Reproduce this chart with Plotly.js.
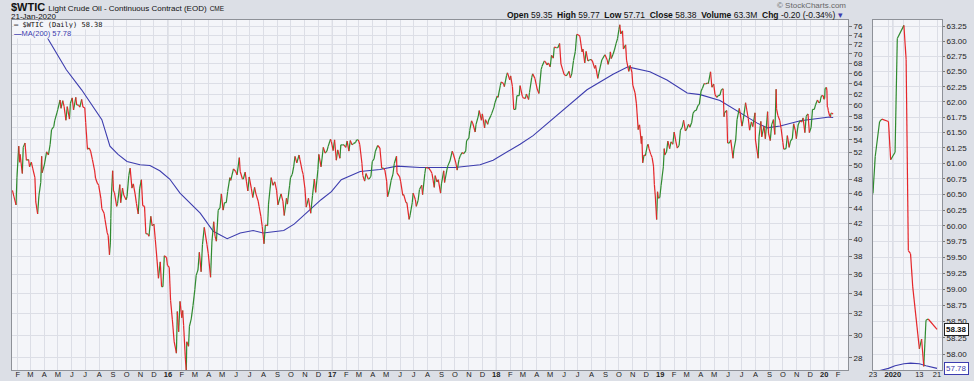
<!DOCTYPE html>
<html><head><meta charset="utf-8">
<script src="https://cdn.plot.ly/plotly-3.0.1.min.js"></script>
<style>html,body{margin:0;padding:0;background:#dcdfe6;} #chart{width:974px;height:381px;}</style>
</head><body><div id="chart"></div>
<script>
// ---- price data ($WTIC close) ----
const priceDates = [
'2015-01-20','2015-01-23','2015-01-28','2015-01-30','2015-02-03','2015-02-05','2015-02-06','2015-02-11','2015-02-13','2015-02-17','2015-02-20','2015-02-25','2015-02-27',
'2015-03-03','2015-03-06','2015-03-11','2015-03-13','2015-03-17','2015-03-20','2015-03-24','2015-03-26','2015-03-27',
'2015-04-01','2015-04-06','2015-04-10','2015-04-14','2015-04-17','2015-04-22','2015-04-24','2015-04-29',
'2015-05-01','2015-05-06','2015-05-08','2015-05-12','2015-05-15','2015-05-19','2015-05-22','2015-05-27','2015-05-29',
'2015-06-02','2015-06-05','2015-06-10','2015-06-12','2015-06-16','2015-06-19','2015-06-23','2015-06-26','2015-06-30',
'2015-07-02','2015-07-06','2015-07-10','2015-07-13','2015-07-17','2015-07-22','2015-07-24','2015-07-28','2015-07-31',
'2015-08-05','2015-08-07','2015-08-12','2015-08-14','2015-08-19','2015-08-21','2015-08-24','2015-08-26','2015-08-27','2015-08-28','2015-08-31',
'2015-09-02','2015-09-04','2015-09-09','2015-09-11','2015-09-16','2015-09-18','2015-09-22','2015-09-25','2015-09-30',
'2015-10-02','2015-10-06','2015-10-09','2015-10-13','2015-10-16','2015-10-20','2015-10-23','2015-10-27','2015-10-30',
'2015-11-03','2015-11-06','2015-11-10','2015-11-13','2015-11-17','2015-11-20','2015-11-24','2015-11-27',
'2015-12-01','2015-12-04','2015-12-08','2015-12-11','2015-12-15','2015-12-18','2015-12-21','2015-12-24','2015-12-29','2015-12-31',
'2016-01-04','2016-01-07','2016-01-11','2016-01-15','2016-01-20','2016-01-22','2016-01-25','2016-01-28',
'2016-02-01','2016-02-03','2016-02-05','2016-02-09','2016-02-11','2016-02-12','2016-02-16','2016-02-18','2016-02-22','2016-02-26',
'2016-03-01','2016-03-04','2016-03-08','2016-03-11','2016-03-15','2016-03-18','2016-03-22','2016-03-28','2016-03-31',
'2016-04-05','2016-04-08','2016-04-12','2016-04-15','2016-04-18','2016-04-22','2016-04-26','2016-04-29',
'2016-05-03','2016-05-06','2016-05-10','2016-05-13','2016-05-18','2016-05-20','2016-05-26','2016-05-31',
'2016-06-03','2016-06-08','2016-06-10','2016-06-15','2016-06-17','2016-06-21','2016-06-24','2016-06-27','2016-06-30',
'2016-07-05','2016-07-08','2016-07-12','2016-07-15','2016-07-20','2016-07-22','2016-07-26','2016-07-29',
'2016-08-02','2016-08-05','2016-08-10','2016-08-12','2016-08-18','2016-08-22','2016-08-26','2016-08-30',
'2016-09-02','2016-09-07','2016-09-09','2016-09-13','2016-09-16','2016-09-21','2016-09-23','2016-09-28','2016-09-30',
'2016-10-04','2016-10-07','2016-10-10','2016-10-14','2016-10-19','2016-10-21','2016-10-26','2016-10-28',
'2016-11-01','2016-11-04','2016-11-09','2016-11-14','2016-11-18','2016-11-22','2016-11-25','2016-11-30',
'2016-12-02','2016-12-07','2016-12-12','2016-12-16','2016-12-20','2016-12-23','2016-12-28','2016-12-30',
'2017-01-03','2017-01-06','2017-01-10','2017-01-13','2017-01-18','2017-01-20','2017-01-24','2017-01-27','2017-01-31',
'2017-02-03','2017-02-07','2017-02-10','2017-02-14','2017-02-17','2017-02-22','2017-02-24','2017-02-28',
'2017-03-03','2017-03-08','2017-03-10','2017-03-14','2017-03-17','2017-03-22','2017-03-24','2017-03-28','2017-03-31',
'2017-04-04','2017-04-07','2017-04-12','2017-04-17','2017-04-21','2017-04-25','2017-04-28',
'2017-05-02','2017-05-04','2017-05-08','2017-05-12','2017-05-16','2017-05-19','2017-05-24','2017-05-25','2017-05-31',
'2017-06-02','2017-06-07','2017-06-09','2017-06-14','2017-06-16','2017-06-21','2017-06-23','2017-06-28','2017-06-30',
'2017-07-05','2017-07-07','2017-07-11','2017-07-14','2017-07-19','2017-07-21','2017-07-26','2017-07-28',
'2017-08-02','2017-08-04','2017-08-08','2017-08-11','2017-08-16','2017-08-18','2017-08-22','2017-08-25','2017-08-30',
'2017-09-01','2017-09-06','2017-09-08','2017-09-13','2017-09-15','2017-09-20','2017-09-25','2017-09-28',
'2017-10-03','2017-10-06','2017-10-10','2017-10-13','2017-10-17','2017-10-20','2017-10-25','2017-10-27',
'2017-11-01','2017-11-03','2017-11-07','2017-11-10','2017-11-15','2017-11-17','2017-11-22','2017-11-24','2017-11-29',
'2017-12-01','2017-12-06','2017-12-08','2017-12-13','2017-12-15','2017-12-20','2017-12-22','2017-12-27','2017-12-29',
'2018-01-03','2018-01-05','2018-01-10','2018-01-12','2018-01-17','2018-01-19','2018-01-24','2018-01-26','2018-01-31',
'2018-02-02','2018-02-06','2018-02-09','2018-02-13','2018-02-16','2018-02-21','2018-02-23','2018-02-28',
'2018-03-02','2018-03-07','2018-03-09','2018-03-14','2018-03-16','2018-03-21','2018-03-23','2018-03-28',
'2018-04-02','2018-04-06','2018-04-11','2018-04-13','2018-04-18','2018-04-20','2018-04-24','2018-04-27',
'2018-05-01','2018-05-04','2018-05-08','2018-05-10','2018-05-15','2018-05-18','2018-05-22','2018-05-25','2018-05-29',
'2018-06-01','2018-06-05','2018-06-08','2018-06-12','2018-06-15','2018-06-18','2018-06-22','2018-06-26','2018-06-29',
'2018-07-03','2018-07-06','2018-07-11','2018-07-13','2018-07-17','2018-07-20','2018-07-24','2018-07-27','2018-07-31',
'2018-08-03','2018-08-08','2018-08-10','2018-08-15','2018-08-17','2018-08-22','2018-08-24','2018-08-29','2018-08-31',
'2018-09-05','2018-09-07','2018-09-11','2018-09-12','2018-09-14','2018-09-18','2018-09-21','2018-09-25','2018-09-28',
'2018-10-01','2018-10-03','2018-10-05','2018-10-09','2018-10-11','2018-10-16','2018-10-18','2018-10-23','2018-10-26','2018-10-30',
'2018-11-01','2018-11-06','2018-11-09','2018-11-13','2018-11-14','2018-11-16','2018-11-20','2018-11-21','2018-11-23','2018-11-26','2018-11-29',
'2018-12-03','2018-12-05','2018-12-07','2018-12-11','2018-12-14','2018-12-17','2018-12-19','2018-12-21','2018-12-24','2018-12-26','2018-12-28','2018-12-31',
'2019-01-03','2019-01-08','2019-01-10','2019-01-11','2019-01-15','2019-01-18','2019-01-22','2019-01-25','2019-01-29',
'2019-02-01','2019-02-05','2019-02-08','2019-02-12','2019-02-15','2019-02-19','2019-02-22','2019-02-26',
'2019-03-01','2019-03-05','2019-03-08','2019-03-12','2019-03-15','2019-03-19','2019-03-22','2019-03-26','2019-03-29',
'2019-04-02','2019-04-05','2019-04-09','2019-04-12','2019-04-16','2019-04-18','2019-04-23','2019-04-26','2019-04-30',
'2019-05-03','2019-05-07','2019-05-10','2019-05-14','2019-05-17','2019-05-21','2019-05-23','2019-05-24','2019-05-29','2019-05-31',
'2019-06-04','2019-06-07','2019-06-12','2019-06-14','2019-06-18','2019-06-21','2019-06-26','2019-06-28',
'2019-07-02','2019-07-05','2019-07-10','2019-07-16','2019-07-19','2019-07-23','2019-07-26','2019-07-31',
'2019-08-01','2019-08-07','2019-08-09','2019-08-13','2019-08-15','2019-08-20','2019-08-23','2019-08-28','2019-08-30',
'2019-09-03','2019-09-06','2019-09-10','2019-09-13','2019-09-16','2019-09-17','2019-09-20','2019-09-24','2019-09-27',
'2019-10-01','2019-10-03','2019-10-08','2019-10-11','2019-10-15','2019-10-18','2019-10-22','2019-10-25','2019-10-29','2019-10-31',
'2019-11-04','2019-11-08','2019-11-12','2019-11-15','2019-11-19','2019-11-22','2019-11-26','2019-11-29',
'2019-12-03','2019-12-06','2019-12-10','2019-12-13','2019-12-17','2019-12-20',
'2019-12-23','2019-12-24','2019-12-26','2019-12-27','2019-12-30','2019-12-31',
'2020-01-02','2020-01-03','2020-01-06','2020-01-07','2020-01-08','2020-01-09','2020-01-10',
'2020-01-13','2020-01-14','2020-01-15','2020-01-16','2020-01-17','2020-01-21'
];
const priceClose = [
46.4,45.6,44.4,48.2,53.0,50.5,51.7,48.8,52.8,53.5,50.8,50.9,49.8,
50.5,49.6,48.2,44.8,43.2,45.7,47.5,51.4,48.9,
50.1,52.1,51.6,53.3,55.7,56.2,57.2,58.6,
59.2,60.9,59.4,60.8,59.7,57.3,59.7,57.5,60.3,
61.3,59.1,61.4,60.0,60.0,59.6,61.0,59.6,59.5,
56.9,52.5,52.7,52.2,50.9,49.2,48.1,47.4,47.1,
45.2,43.9,43.3,42.5,40.8,40.5,38.2,39.6,42.6,45.2,49.2,
46.3,46.1,44.2,44.6,47.2,44.7,46.7,45.7,45.1,
45.5,48.5,49.6,46.7,47.3,45.9,44.6,43.2,46.6,
47.9,44.3,44.2,40.7,40.7,40.4,42.9,41.7,
41.9,40.0,37.5,35.6,37.4,34.7,34.7,38.1,37.9,37.0,
36.8,33.3,31.4,29.4,28.4,32.2,30.3,33.2,
31.6,32.3,30.9,27.9,26.9,29.4,29.0,30.8,31.5,32.8,
34.4,35.9,36.5,38.5,36.3,39.4,41.5,39.4,38.3,
35.7,39.7,42.2,40.4,39.8,43.7,44.0,45.9,
43.7,44.7,44.7,46.2,48.2,47.8,49.5,49.1,
48.6,51.2,49.1,48.0,48.0,49.0,47.6,46.3,48.3,
46.6,45.4,46.8,45.9,44.9,44.2,42.9,41.6,
39.5,41.8,41.7,44.5,48.2,47.1,47.6,46.4,
44.4,45.5,45.9,44.9,43.0,45.3,44.5,47.1,48.2,
48.7,49.8,51.4,50.4,51.6,50.9,49.2,48.7,
46.7,44.1,45.3,43.3,45.7,48.0,46.1,49.4,
51.7,49.8,52.8,51.9,52.2,53.0,54.1,53.7,
52.3,54.0,50.8,52.4,51.1,53.2,53.2,53.2,52.8,
53.8,52.2,53.9,53.2,53.4,53.6,54.0,54.0,
53.3,50.3,48.5,47.7,48.8,48.0,48.0,48.4,50.6,
51.0,52.2,53.1,52.7,49.6,49.6,49.3,
47.7,45.5,46.4,47.8,48.7,50.3,51.4,48.9,48.3,
47.7,45.7,45.8,44.7,44.7,42.5,43.0,44.7,46.0,
45.1,44.2,45.0,46.5,47.1,45.8,48.8,49.7,
49.6,49.6,49.2,48.8,46.8,48.5,47.6,47.9,46.0,
47.3,49.2,47.5,49.3,49.9,50.7,52.2,51.6,
50.4,49.3,50.9,51.5,52.0,51.8,52.2,53.9,
54.3,55.6,57.2,56.7,55.3,56.6,58.0,59.0,57.3,
58.4,56.0,57.4,56.6,57.3,58.1,58.5,59.6,60.4,
61.6,61.4,63.6,64.3,64.0,63.4,65.6,66.1,64.7,
65.5,63.4,59.2,59.2,61.7,61.7,63.6,61.6,
61.3,61.2,62.0,61.0,62.3,65.2,65.9,65.0,
63.0,62.1,66.8,67.4,68.5,68.4,67.7,68.1,
67.3,69.7,69.1,71.4,71.3,71.3,72.2,67.9,66.7,
65.8,65.5,65.7,66.4,65.1,65.9,68.6,70.5,74.2,
74.1,73.8,70.4,71.0,68.1,70.5,68.5,68.7,68.8,
68.5,67.0,67.6,65.0,65.9,67.9,68.7,69.5,69.8,
68.7,67.8,69.3,70.4,69.0,69.9,70.8,72.3,73.3,
75.3,76.4,74.3,75.0,71.0,71.9,68.7,66.4,67.6,66.2,
63.7,62.2,60.2,55.7,56.3,56.5,53.4,54.6,50.4,51.6,51.5,
53.0,53.3,52.6,51.7,51.2,49.9,47.2,45.6,42.5,46.2,45.3,45.4,
47.1,49.8,52.6,51.6,52.1,53.8,52.6,53.7,53.3,
55.3,53.7,52.7,53.1,55.6,56.1,57.3,55.5,
55.8,56.6,56.1,56.9,58.5,59.0,59.0,59.9,60.1,
62.6,63.1,64.0,63.9,64.1,64.0,66.3,63.3,63.9,
61.9,61.4,61.7,61.8,62.8,63.0,57.9,58.6,59.0,53.5,
53.5,54.0,51.1,52.5,54.0,57.4,59.4,58.5,
56.3,57.5,60.4,57.6,55.6,57.0,56.2,58.6,
54.0,51.1,54.5,57.1,54.5,56.3,54.2,58.8,55.1,
53.9,56.5,57.4,54.9,62.9,59.3,58.1,57.3,55.9,
53.6,52.5,52.6,54.7,52.8,53.8,54.2,56.7,55.5,54.2,
56.5,57.2,57.0,57.7,55.2,58.0,58.4,55.2,
56.1,59.2,59.2,60.1,60.9,60.4,
60.52,61.11,61.68,61.72,61.68,61.06,
61.18,63.05,63.27,62.70,59.61,59.56,59.04,
58.08,58.23,57.81,58.52,58.54,58.38
];
// ---- MA(200) ----
const maDates = [
'2015-03-01','2015-04-05','2015-05-20','2015-06-23','2015-08-07','2015-08-25','2015-09-12','2015-10-02','2015-10-31','2015-11-22','2015-12-14',
'2016-01-05','2016-01-28','2016-02-12','2016-03-13','2016-04-11','2016-05-12','2016-06-10','2016-07-09','2016-07-31','2016-09-15','2016-10-08','2016-11-08','2016-12-07','2016-12-30',
'2017-01-21','2017-03-04','2017-04-17','2017-05-25','2017-07-15','2017-10-01','2017-11-26','2017-12-25',
'2018-02-23','2018-03-24','2018-05-23','2018-07-22','2018-09-18','2018-10-21','2018-12-09',
'2019-01-16','2019-03-02','2019-03-31','2019-05-14','2019-06-28','2019-08-05','2019-08-27','2019-09-25','2019-11-09',
'2019-12-23','2019-12-30','2020-01-02','2020-01-06','2020-01-09','2020-01-13','2020-01-16','2020-01-21'
];
const maValues = [
81.5,73.9,66.7,62.8,57.4,53.0,51.7,50.6,50.1,50.0,49.2,
48.0,46.0,45.1,43.3,41.0,40.1,40.8,41.1,40.8,41.1,41.9,43.5,45.1,46.2,
47.9,49.1,49.4,49.9,49.7,49.7,50.1,50.8,
53.3,54.7,58.6,62.8,65.8,67.3,66.3,
64.7,62.2,61.9,60.8,58.6,56.8,56.0,56.3,57.2,
57.72,57.78,57.82,57.85,57.86,57.85,57.82,57.78
];
// ---- axis ticks / labels ----
const mainYTicks = [28,30,32,34,36,38,40,42,44,46,48,50,52,54,56,58,60,62,64,66,68,70,72,74,76];
const panelYTicks = [58.00,58.25,58.50,58.75,59.00,59.25,59.50,59.75,60.00,60.25,60.50,60.75,61.00,61.25,61.50,61.75,62.00,62.25,62.50,62.75,63.00,63.25];
const monthLetters = ['J','F','M','A','M','J','J','A','S','O','N','D'];
const tickYears = [2015,2016,2017,2018,2019,2020];
const yearLabels = ['15','16','17','18','19','20'];
const panelXTicks = ['2019-12-23','2019-12-30','2020-01-01','2020-01-06','2020-01-13','2020-01-21'];
const panelXText = ['23','','<b>2020</b>','','13','21'];

const W=974,H=381;
const px=x=>x/W, py=y=>1-y/H;

// month ticks
const mTicks=[], mText=[];
tickYears.forEach((yr,k)=>{
  for(let m=0;m<12;m++){
    const d = yr+'-'+String(m+1).padStart(2,'0')+'-01';
    if(d<'2015-02-01' || d>'2020-02-01') continue;
    mTicks.push(d);
    mText.push(m===0 ? '<b>'+yearLabels[k]+'</b>' : monthLetters[m]);
  }
});

function segs(up){
  const x=[],y=[];
  for(let i=0;i<priceClose.length-1;i++){
    const isUp = priceClose[i+1]>=priceClose[i];
    if(isUp===up){ x.push(priceDates[i],priceDates[i+1],null); y.push(priceClose[i],priceClose[i+1],null); }
  }
  return {x,y};
}
const G=segs(true), R=segs(false);
const green='#2f8a2f', red='#e5262a', blue='#3c3cae';
const traces=[];
[['x','y'],['x2','y2']].forEach(([xa,ya])=>{
  traces.push({x:maDates,y:maValues,type:'scatter',mode:'lines',line:{color:blue,width:1.1},xaxis:xa,yaxis:ya,hoverinfo:'skip'});
  traces.push({x:G.x,y:G.y,type:'scatter',mode:'lines',line:{color:green,width:1.2},xaxis:xa,yaxis:ya,hoverinfo:'skip',connectgaps:false});
  traces.push({x:R.x,y:R.y,type:'scatter',mode:'lines',line:{color:red,width:1.2},xaxis:xa,yaxis:ya,hoverinfo:'skip',connectgaps:false});
});

const plotBg='#f4f5f9', grid='#dcdee6', frame='#8e9198';
const tf={family:'Liberation Sans, Arial, sans-serif',size:8,color:'#222'};
const xtf={family:'Liberation Sans, Arial, sans-serif',size:7.5,color:'#222'};
const yDom=[11/H, 361/H];

const shapes = tickYears.slice(1).map(yr=>({type:'line',xref:'x',yref:'paper',x0:yr+'-01-01',x1:yr+'-01-01',y0:yDom[0],y1:yDom[1],line:{color:'#c6c9d2',width:1},layer:'between'}));
shapes.push({type:'line',xref:'x2',yref:'paper',x0:'2020-01-01',x1:'2020-01-01',y0:yDom[0],y1:yDom[1],line:{color:'#c6c9d2',width:1},layer:'between'});

const layout={
  width:W,height:H,autosize:false,margin:{l:0,r:0,t:0,b:0},
  paper_bgcolor:'#dcdfe6',plot_bgcolor:plotBg,showlegend:false,
  xaxis:{type:'date',domain:[px(12),px(848)],range:['2015-01-19','2020-02-23'],tickvals:mTicks,ticktext:mText,
    showgrid:true,gridcolor:grid,gridwidth:1,ticks:'',tickfont:xtf,ticklabelstandoff:-3,showline:true,linecolor:frame,mirror:true,zeroline:false,anchor:'y',fixedrange:true},
  yaxis:{type:'log',domain:yDom,range:[Math.log10(27.0),Math.log10(77.5)],side:'right',tickvals:mainYTicks,ticktext:mainYTicks.map(String),
    showgrid:true,gridcolor:grid,ticks:'outside',ticklen:3,tickcolor:'#777',tickfont:tf,showline:true,linecolor:frame,mirror:true,zeroline:false,anchor:'x',fixedrange:true},
  xaxis2:{type:'date',domain:[px(873),px(942)],range:['2019-12-23','2020-01-23 06:00'],tickvals:panelXTicks,ticktext:panelXText,
    showgrid:true,gridcolor:grid,ticks:'',tickfont:xtf,ticklabelstandoff:-3,showline:true,linecolor:frame,mirror:true,zeroline:false,anchor:'y2',fixedrange:true},
  yaxis2:{type:'log',domain:yDom,range:[Math.log10(57.755),Math.log10(63.36)],side:'right',tickvals:panelYTicks,ticktext:panelYTicks.map(v=>v.toFixed(2)),
    showgrid:true,gridcolor:grid,ticks:'outside',ticklen:2,tickcolor:'#777',tickfont:tf,showline:true,linecolor:frame,mirror:true,zeroline:false,anchor:'x2',fixedrange:true},
  shapes:shapes,
  annotations:[
    {xref:'paper',yref:'paper',x:px(9),y:py(7),xanchor:'left',yanchor:'middle',showarrow:false,
      text:'<b>$WTIC</b> <span style="font-size:8px">Light Crude Oil - Continuous Contract (EOD)</span> <span style="font-size:6.5px">CME</span>',
      font:{family:'Liberation Sans, Arial, sans-serif',size:11,color:'#111'}},
    {xref:'paper',yref:'paper',x:px(9),y:py(16),xanchor:'left',yanchor:'middle',showarrow:false,text:'21-Jan-2020',
      font:{family:'Liberation Sans, Arial, sans-serif',size:8,color:'#111'}},
    {xref:'paper',yref:'paper',x:px(848),y:py(6),xanchor:'right',yanchor:'middle',showarrow:false,text:'© StockCharts.com',
      font:{family:'Liberation Sans, Arial, sans-serif',size:8,color:'#666'}},
    {xref:'paper',yref:'paper',x:px(845),y:py(15.5),xanchor:'right',yanchor:'middle',showarrow:false,
      text:'<b>Open</b> 59.35  <b>High</b> 59.77  <b>Low</b> 57.71  <b>Close</b> 58.38  <b>Volume</b> 63.3M  <b>Chg</b> -0.20 (-0.34%) <span style="color:#3c3cae">▾</span>',
      font:{family:'Liberation Sans, Arial, sans-serif',size:8.5,color:'#111'}},
    {xref:'paper',yref:'paper',x:px(13),y:py(25),xanchor:'left',yanchor:'middle',showarrow:false,bgcolor:plotBg,borderpad:0,
      text:'<b>—</b> $WTIC (Daily) 58.38',font:{family:'DejaVu Sans Mono, monospace',size:7,color:'#111'}},
    {xref:'paper',yref:'paper',x:px(13),y:py(33.5),xanchor:'left',yanchor:'middle',showarrow:false,bgcolor:plotBg,borderpad:0,
      text:'<b>—</b>MA(200) 57.78',font:{family:'Liberation Sans, Arial, sans-serif',size:7.5,color:blue}},
    {xref:'paper',yref:'y2',x:px(944),y:Math.log10(58.38),xanchor:'left',yanchor:'middle',showarrow:false,bgcolor:'#ffffff',bordercolor:'#222',borderwidth:1,borderpad:1,
      text:'<b>58.38</b>',font:{family:'Liberation Sans, Arial, sans-serif',size:8,color:'#111'}},
    {xref:'paper',yref:'y2',x:px(944),y:Math.log10(57.78),xanchor:'left',yanchor:'middle',showarrow:false,bgcolor:'#ffffff',bordercolor:blue,borderwidth:1,borderpad:1,
      text:'57.78',font:{family:'Liberation Sans, Arial, sans-serif',size:8,color:blue}}
  ]
};
Plotly.newPlot('chart',traces,layout,{staticPlot:true,displayModeBar:false});
</script>
</body></html>
